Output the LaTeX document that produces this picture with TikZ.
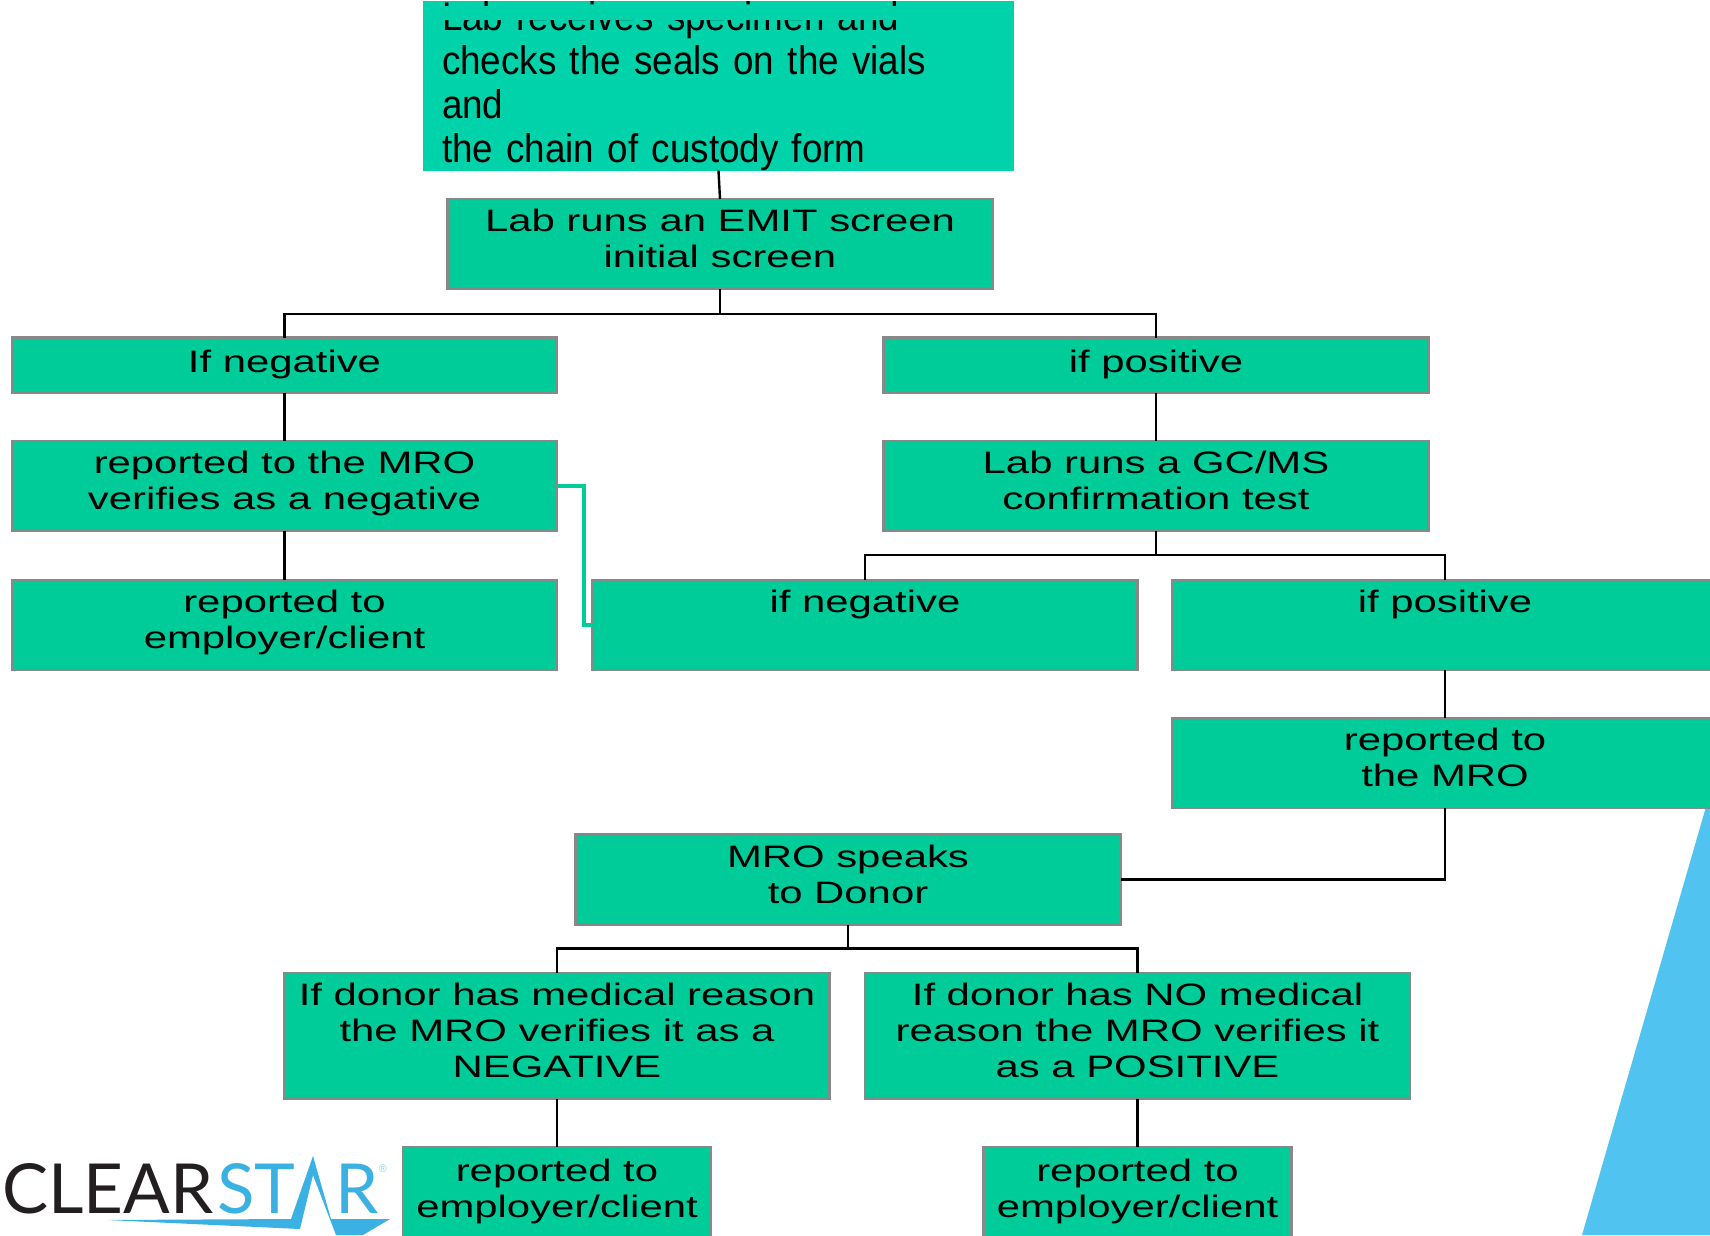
\documentclass[tikz,border=0pt]{standalone}
\usepackage{fontspec}
\setmainfont{Liberation Sans}
\newfontfamily\boxfont[FakeStretch=1.35]{Liberation Sans}
\newfontfamily\topfont[FakeStretch=0.92,WordSpace=0.8]{Liberation Sans}
\newfontfamily\logofont{Lato}
\definecolor{boxgreen}{HTML}{00CC99}
\definecolor{topgreen}{HTML}{00D3AA}
\definecolor{boxgray}{HTML}{888888}
\definecolor{skyblue}{HTML}{50C3F0}
\definecolor{logoblue}{HTML}{3BB0E3}
\definecolor{logodark}{HTML}{231F20}
\tikzset{
	flowbox/.style={draw=boxgray, fill=boxgreen, line width=2.5pt, outer sep=0pt, inner sep=0pt, align=center, minimum width=545pt, font=\boxfont\fontsize{31}{36}\selectfont, execute at begin node=\strut, execute at end node=\strut},
	smallbox/.style={flowbox, minimum width=308pt},
	link/.style={line width=2.4pt, color=black},
	logotext/.style={anchor=base west, inner sep=0pt, font=\logofont\fontsize{69}{69}\selectfont}
}

\begin{document}
\begin{tikzpicture}[x=1pt, y=-1pt]
		%%%%% START %%%%%
		\useasboundingbox (0, 0) rectangle (1710, 1235);
		\clip (0, 0) rectangle (1710, 1235);
		
		\fill[skyblue] (1710, 793) -- (1582, 1235) -- (1710, 1235) -- cycle;
		
		\node[fill=topgreen, outer sep=0pt, inner sep=0pt, minimum width=591pt, minimum height=154pt, text width=553pt, align=left, font=\topfont\fontsize{40}{44}\selectfont] (receive) at (718.5, 86) {Lab receives specimen and\\checks the seals on the vials and\\the chain of custody form};
		\path[fill=topgreen] (423, 6) rectangle (1014, 20);
		
		\node[flowbox, minimum height=90pt] (emit) at (720, 244) {Lab runs an EMIT screen\\initial screen};
		
		\node[flowbox, minimum height=55pt] (negone) at (284.5, 365) {If negative};
		\node[flowbox, minimum height=90pt] (reportneg) at (284.5, 486) {reported to the MRO\\verifies as a negative};
		\node[flowbox, minimum height=90pt] (clientone) at (284.5, 625) {reported to\\employer/client};
		
		\node[flowbox, minimum height=55pt] (posone) at (1156, 365) {if positive};
		\node[flowbox, minimum height=90pt] (gcms) at (1156, 486) {Lab runs a GC/MS\\confirmation test};
		\node[flowbox, minimum height=90pt] (negtwo) at (865, 625) {if negative\\~};
		\node[flowbox, minimum height=90pt] (postwo) at (1445, 625) {if positive\\~};
		\node[flowbox, minimum height=90pt] (reportpos) at (1445, 763) {reported to\\the MRO};
		
		\node[flowbox, minimum height=90pt] (donor) at (848, 879.5) {MRO speaks\\to Donor};
		\node[flowbox, minimum height=126pt] (medical) at (557, 1036) {If donor has medical reason\\the MRO verifies it as a\\NEGATIVE};
		\node[flowbox, minimum height=126pt] (nomedical) at (1137.5, 1036) {If donor has NO medical\\reason the MRO verifies it\\as a POSITIVE};
		\node[smallbox, minimum height=93pt] (clienttwo) at (557, 1193.5) {reported to\\employer/client};
		\node[smallbox, minimum height=93pt] (clientthree) at (1137.5, 1193.5) {reported to\\employer/client};
		
		\draw[link] (receive.south) -- (emit.north);
		\draw[link] (emit.south) -- ++(0, 25) -| (negone.north);
		\draw[link] (emit.south) -- ++(0, 25) -| (posone.north);
		\draw[link] (negone) -- (reportneg);
		\draw[link] (reportneg) -- (clientone);
		\draw[link] (posone) -- (gcms);
		\draw[link] (gcms.south) -- ++(0, 24) -| (negtwo.north);
		\draw[link] (gcms.south) -- ++(0, 24) -| (postwo.north);
		\draw[link] (postwo) -- (reportpos);
		\draw[link] (reportpos.south) |- (donor.east);
		\draw[link] (donor.south) -- ++(0, 24) -| (medical.north);
		\draw[link] (donor.south) -- ++(0, 24) -| (nomedical.north);
		\draw[link] (medical) -- (clienttwo);
		\draw[link] (nomedical) -- (clientthree);
		
		\draw[line width=4pt, color=boxgreen] (reportneg.east) -- ++(27, 0) |- (negtwo.west);
		
		\node[logotext, text=logodark] (logoclear) at (2, 1213) {CLEAR};
		\node[logotext, text=logoblue] (logost) at (217, 1213) {ST};
		\node[logotext, text=logoblue] (logor) at (335, 1213) {R};
		\node[anchor=center, inner sep=0pt, text=logoblue!60, font=\fontsize{11}{11}\selectfont] (logomark) at (383, 1169) {®};
		\fill[logoblue] (107, 1220) -- (291, 1219) -- (313, 1156) -- (331, 1219) -- (390, 1219) -- (363, 1235) -- (336, 1235) -- (313, 1175) -- (300, 1229) -- cycle;
		
		%%%%% END %%%%%
	\end{tikzpicture}
\end{document}
